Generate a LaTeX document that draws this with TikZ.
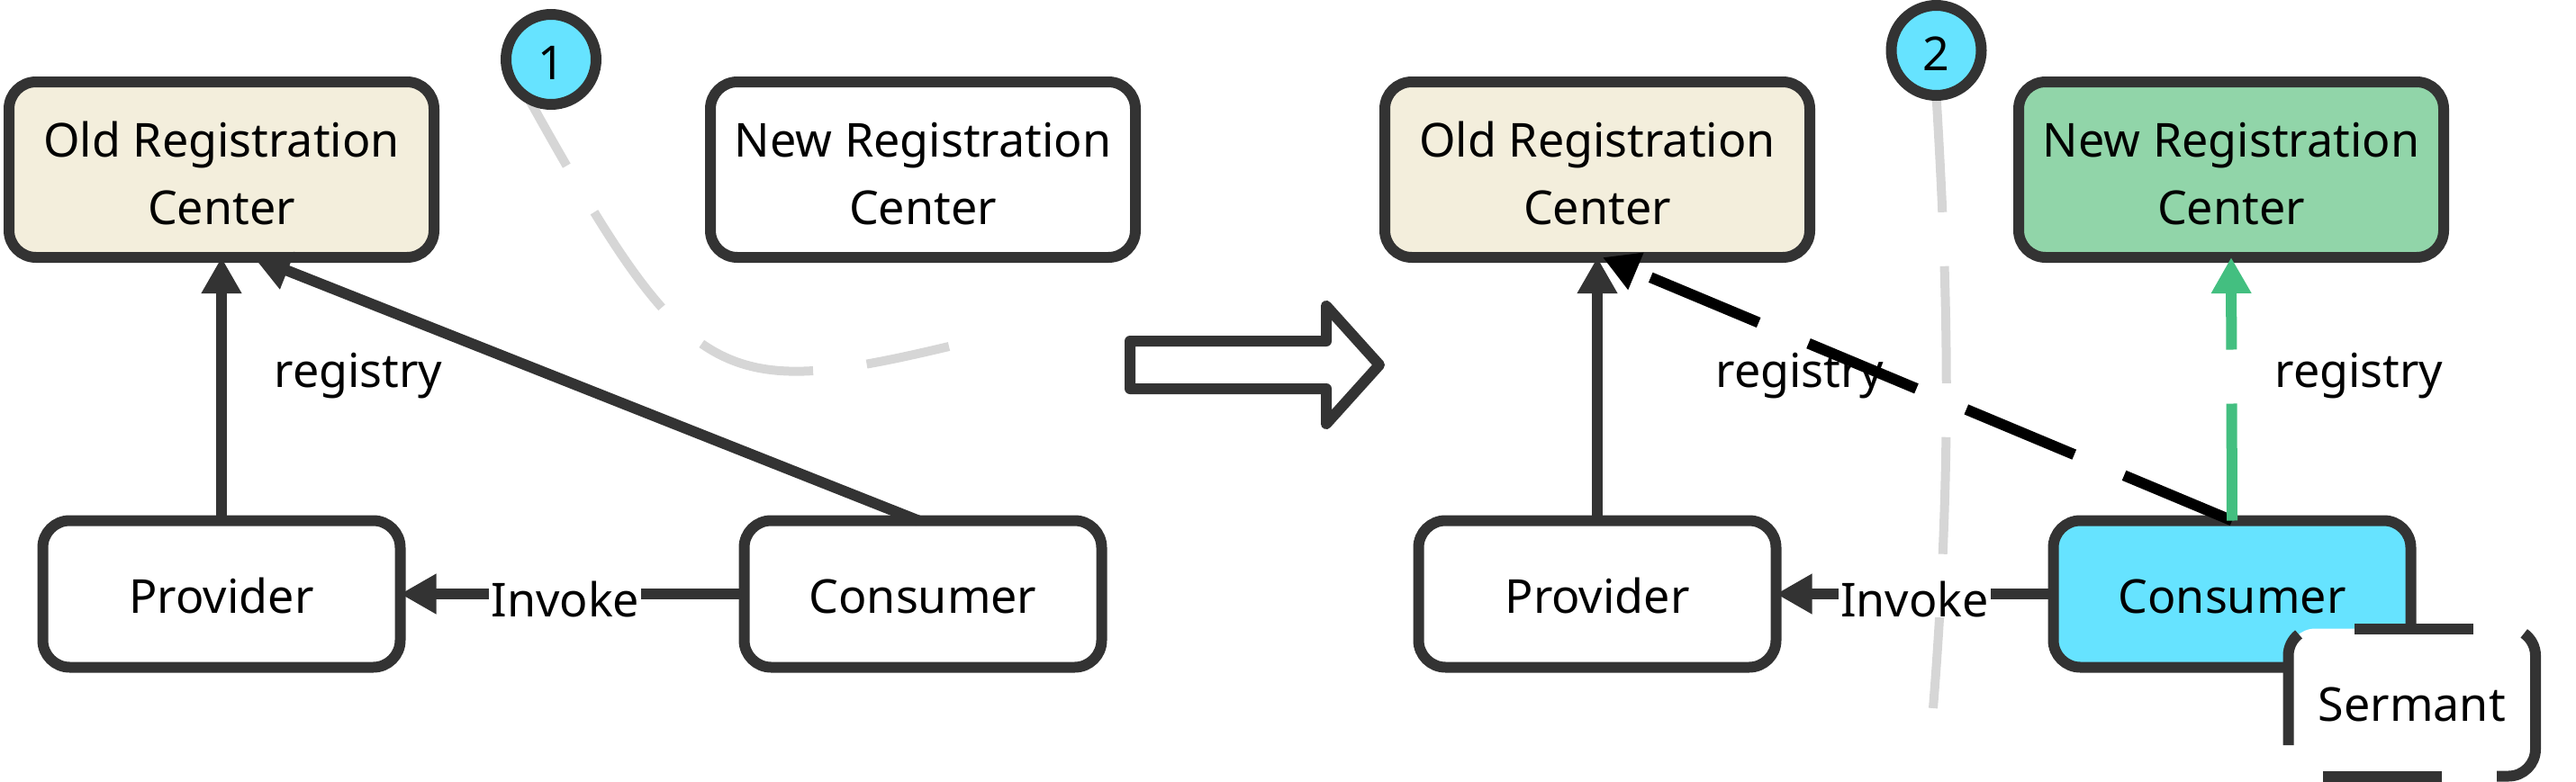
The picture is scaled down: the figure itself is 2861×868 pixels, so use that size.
\documentclass[tikz,border=0pt]{standalone}
\usepackage{fontspec}
\setmainfont{Noto Sans}
\usetikzlibrary{arrows.meta,backgrounds}
\definecolor{dark}{HTML}{333333}
\definecolor{beige}{HTML}{F3EEDC}
\definecolor{greenfill}{HTML}{91D5A9}
\definecolor{cyanfill}{HTML}{66E3FF}
\definecolor{greenline}{HTML}{43BF80}
\definecolor{grayline}{HTML}{D6D6D6}
\newcommand{\lowtxt}[2][3pt]{\raisebox{-#1}[\height][\depth]{\begin{tabular}{@{}c@{}}#2\end{tabular}}}
\begin{document}
\begin{tikzpicture}[x=0.5pt,y=-0.5pt,
  font=\fontsize{26pt}{37.5pt}\selectfont,
  box/.style={draw=dark, line width=6pt, rounded corners=15pt, outer sep=0pt, inner sep=0pt, align=center},
  regbox/.style={box, minimum width=236pt, minimum height=97.5pt},
  pcbox/.style={box, minimum width=198.5pt, minimum height=81.5pt},
  numcircle/.style={circle, draw=dark, line width=6pt, fill=cyanfill, minimum size=50pt, inner sep=0pt, outer sep=0pt},
  tipshape/.style={-{Triangle[length=20pt,width=21pt]}},
  conn/.style={draw=dark, line width=6pt, tipshape},
  blackdash/.style={draw=black, line width=6pt, dash pattern=on 65pt off 30pt, tipshape},
  greendash/.style={draw=greenline, line width=6pt, dash pattern=on 65pt off 30pt, tipshape},
  graydash/.style={draw=grayline, line width=5pt, dash pattern=on 65pt off 30pt},
  lbl/.style={fill=white, inner xsep=1pt, inner ysep=0pt, yshift=-3pt},
  sermborder/.style={draw=dark, line width=6pt}
]
\useasboundingbox (0,0) rectangle (2861,868);

% ---------- left panel ----------
\node[regbox, fill=beige] (oldL) at (246,188.5) {\lowtxt[4pt]{Old Registration\\Center}};
\node[regbox, fill=white] (newL) at (1025,188.5) {\lowtxt[4pt]{New Registration\\Center}};
\node[pcbox, fill=white] (provL) at (246,660) {\lowtxt{Provider}};
\node[pcbox, fill=white] (consL) at (1025,660) {\lowtxt{Consumer}};
\node[numcircle] (c1) at (612,66) {\raisebox{-2pt}[\height][\depth]{1}};
\coordinate (g1end) at (1054,385);

\begin{scope}[on background layer]
  \draw[graydash, dash phase=22pt] (c1.240) .. controls (764,427) and (797,446) .. (g1end);
\end{scope}

\node[anchor=base] (regL) at (398,430) {registry};
\draw[conn] (provL.north) -- (oldL.south);
\draw[conn] ([xshift=-2.5pt]consL.north) -- ([xshift=18pt]oldL.south);
\draw[conn] (consL.west) -- node[lbl, pos=0.52] (invL) {Invoke} (provL.east);

% ---------- big hollow arrow ----------
\draw[dark, line width=6pt, line join=round, fill=white]
  (1255,379) -- (1473,379) -- (1473,340) -- (1532,405.5) -- (1473,471) -- (1473,432) -- (1255,432) -- cycle;

% ---------- right panel ----------
\node[regbox, fill=beige] (oldR) at (1774,188.5) {\lowtxt[4pt]{Old Registration\\Center}};
\node[regbox, fill=greenfill] (newR) at (2478,188.5) {\lowtxt[4pt]{New Registration\\Center}};
\node[pcbox, fill=white] (provR) at (1774,660) {\lowtxt{Provider}};
\node[pcbox, fill=cyanfill] (consR) at (2479,660) {\lowtxt{Consumer}};
\node[numcircle] (c2) at (2150.5,56) {\raisebox{-2pt}[\height][\depth]{2}};
\coordinate (g2end) at (2147,787);

\begin{scope}[on background layer]
  \draw[graydash] (c2.south) .. controls (2162,300) and (2170,500) .. (g2end);
\end{scope}

\node[anchor=base] (regR1) at (1999,430) {registry};
\node[anchor=base] (regR2) at (2620,430) {registry};
\draw[conn] (provR.north) -- (oldR.south);
\draw[conn] (consR.west) -- node[lbl, pos=0.5] (invR) {Invoke} (provR.east);
\draw[blackdash] (consR.north) -- ([xshift=3pt]oldR.south);
\draw[greendash] (consR.north) -- (newR.south);

% ---------- Sermant ----------
\node[fill=white, rounded corners=15pt, minimum width=137.25pt, minimum height=82pt, inner sep=0pt, outer sep=0pt] (serm) at (2678.75,780.5) {\lowtxt{Sermant}};
\draw[sermborder] (2541.5,828) -- (2541.5,728.5) arc[start angle=180, end angle=128, radius=15pt];
\draw[sermborder] (2615,698.5) -- (2747,698.5);
\draw[sermborder] (2803.2,703.9) arc[start angle=55, end angle=0, radius=15pt] -- (2816,832.5) arc[start angle=0, end angle=-90, radius=15pt] -- (2773,862.5);
\draw[sermborder] (2580,862.5) -- (2712,862.5);
\end{tikzpicture}
\end{document}
